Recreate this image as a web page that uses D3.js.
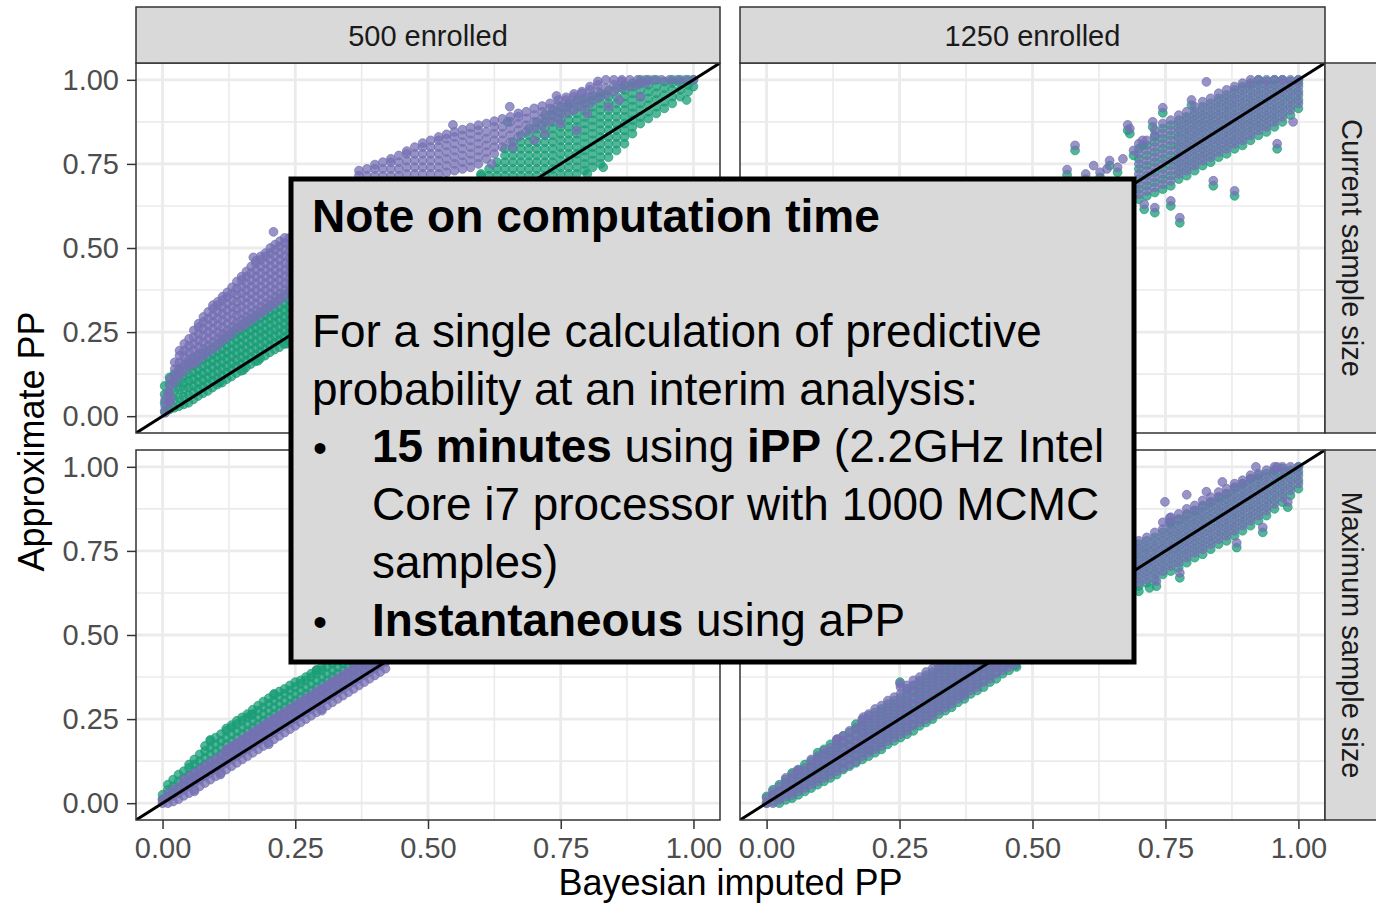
<!DOCTYPE html>
<html>
<head>
<meta charset="utf-8">
<script src="https://cdn.jsdelivr.net/npm/d3@7"></script>
<style>
  body { margin: 0; background: #fff; }
  text { font-family: "Liberation Sans", Arial, Helvetica, sans-serif; }
</style>
</head>
<body>
<svg id="chart" width="1376" height="904"></svg>
<script>
// facet labels and axis ticks
var enrolled   = ["500 enrolled", "1250 enrolled"];
var sampleSize = ["Current sample size", "Maximum sample size"];
var majorTicks = [0, 0.25, 0.5, 0.75, 1];
var minorTicks = [0.125, 0.375, 0.625, 0.875];
var tickLabels = ["0.00", "0.25", "0.50", "0.75", "1.00"];
var xTitle = "Bayesian imputed PP";
var yTitle = "Approximate PP";

// points, as [x, [y, y, ...]] columns plus single [x, y] points
// green series
var tlGreenCols = [
  [.004,[.015,.04,.065,.09]],[.013,[.02,.045,.07,.095,.115]],[.022,[.025,.05,.075,.1,.125]],
  [.031,[.03,.055,.08,.1,.125,.14]],[.04,[.035,.058,.08,.1,.12,.145]],[.049,[.04,.062,.085,.105,.125,.15,.16]],
  [.058,[.05,.07,.09,.11,.13,.15,.17]],[.067,[.06,.08,.1,.12,.14,.16,.18]],[.076,[.068,.088,.108,.128,.148,.168,.188]],
  [.085,[.075,.095,.115,.135,.155,.175,.195]],[.094,[.085,.105,.125,.145,.165,.185,.205]],
  [.103,[.094,.114,.134,.154,.174,.194,.214]],[.112,[.1,.12,.14,.16,.18,.2,.22,.228]],
  [.121,[.11,.13,.15,.17,.19,.21,.23,.24]],[.13,[.118,.138,.158,.178,.198,.218,.238,.25]],
  [.139,[.128,.148,.168,.188,.208,.228,.248,.262]],[.148,[.135,.155,.175,.195,.215,.235,.255,.272]],
  [.157,[.145,.165,.185,.205,.225,.245,.265,.282]],[.166,[.155,.175,.195,.215,.235,.255,.275,.29]],
  [.175,[.163,.183,.203,.223,.243,.263,.283,.3]],[.184,[.172,.192,.212,.232,.252,.272,.292,.31]],
  [.193,[.18,.2,.22,.24,.26,.28,.3,.32]],[.202,[.19,.21,.23,.25,.27,.29,.31,.33]],
  [.211,[.198,.218,.238,.258,.278,.298,.318,.34]],[.22,[.205,.225,.245,.265,.285,.305,.325,.35]],
  [.229,[.215,.235,.255,.275,.295,.315,.335,.36]],[.238,[.225,.245,.265,.285,.305,.325,.345,.37]],
  [.247,[.232,.252,.272,.292,.312,.332,.352,.38]],
  [.6,[.715,.72]],[.615,[.715,.735]],[.63,[.715,.735,.755]],[.645,[.715,.735,.755,.775,.795]],
  [.66,[.715,.735,.755,.775,.795,.815]],[.675,[.715,.735,.755,.775,.795,.815,.835]],
  [.69,[.715,.735,.755,.775,.795,.815,.835,.855]],[.705,[.715,.735,.755,.775,.795,.815,.835,.855,.875]],
  [.72,[.715,.735,.755,.775,.795,.815,.835,.855,.875,.895]],[.735,[.715,.735,.755,.775,.795,.815,.835,.855,.875,.895,.91]],
  [.75,[.72,.74,.76,.78,.8,.82,.84,.86,.88,.9,.92]],[.765,[.72,.74,.76,.78,.8,.82,.84,.86,.88,.9,.92,.93]],
  [.78,[.72,.74,.76,.78,.8,.82,.84,.86,.88,.9,.92,.94]],[.795,[.73,.75,.77,.79,.81,.83,.85,.87,.89,.91,.93,.945]],
  [.81,[.74,.76,.78,.8,.82,.84,.86,.88,.9,.92,.94,.952]],[.825,[.75,.77,.79,.81,.83,.85,.87,.89,.91,.93,.95,.96]],
  [.84,[.77,.79,.81,.83,.85,.87,.89,.91,.93,.95,.968]],[.855,[.79,.81,.83,.85,.87,.89,.91,.93,.95,.975]],
  [.87,[.81,.83,.85,.87,.89,.91,.93,.95,.97,.985]],[.885,[.84,.86,.88,.9,.92,.94,.96,.98,.99]],
  [.9,[.87,.89,.91,.93,.95,.97,.99,1]],[.915,[.885,.905,.925,.945,.965,.985,1]],
  [.93,[.9,.92,.94,.96,.98,1]],[.945,[.915,.935,.955,.975,.995]],[.96,[.93,.95,.97,.99,1]],
  [.975,[.95,.97,.99,1]],[.99,[.965,.985,1]],[1,[.98,1]]
];
var tlGreenPts = [[.152,.137],[.107,.1],[.233,.215],[.18,.165],[.83,.74],[.987,.94],[.8,.72],[.65,.875]];

var trGreenCols = [
  [.70,[.645,.675,.705,.735,.765,.795]],[.715,[.655,.685,.715,.745,.775,.805]],
  [.73,[.665,.695,.725,.755,.785,.815,.835]],[.745,[.675,.705,.735,.765,.795,.825,.855]],
  [.76,[.685,.715,.745,.775,.805,.835,.865]],[.775,[.705,.73,.755,.78,.805,.83,.855,.88]],
  [.79,[.715,.74,.765,.79,.815,.84,.865,.89]],[.805,[.73,.755,.78,.805,.83,.855,.88,.905]],
  [.82,[.745,.77,.795,.82,.845,.87,.895,.92]],[.835,[.755,.78,.805,.83,.855,.88,.905,.93]],
  [.85,[.77,.795,.82,.845,.87,.895,.92,.945]],[.865,[.78,.805,.83,.855,.88,.905,.93,.955]],
  [.88,[.795,.82,.845,.87,.895,.92,.945,.97]],[.895,[.805,.83,.855,.88,.905,.93,.955,.98]],
  [.91,[.82,.845,.87,.895,.92,.945,.97,.99]],[.925,[.835,.86,.885,.91,.935,.96,.985,1]],
  [.94,[.845,.87,.895,.92,.945,.97,.995]],[.955,[.86,.885,.91,.935,.96,.985,1]],
  [.97,[.875,.9,.925,.95,.975,1]],[.985,[.895,.92,.945,.97,.995]],[1,[.915,.94,.965,.99,1]]
];
var trGreenPts = [[.565,.718],[.58,.79],[.6,.705],[.627,.71],[.645,.745],[.66,.725],[.679,.85],[.683,.84],
  [.69,.775],[.707,.805],[.726,.86],[.745,.902],[.799,.925],[.777,.575],[.88,.655],[.84,.685],[.96,.795],
  [.73,.605],[.76,.625],[.71,.615]];

var blGreenCols = [
  [0,[.01,.025]],[.01,[.02,.04,.055]],[.02,[.03,.05,.07]],[.03,[.045,.065,.085]],[.04,[.055,.075,.095]],
  [.05,[.065,.085,.105,.115]],[.06,[.075,.095,.115,.13]],[.07,[.085,.105,.125,.145]],
  [.08,[.095,.115,.135,.155,.17]],[.09,[.105,.125,.145,.165,.185]],[.1,[.115,.135,.155,.175,.195]],
  [.11,[.125,.145,.165,.185,.205]],[.12,[.135,.155,.175,.195,.215,.222]],[.13,[.145,.165,.185,.205,.225,.232]],
  [.14,[.155,.175,.195,.215,.235,.245]],[.15,[.165,.185,.205,.225,.245,.255]],[.16,[.175,.195,.215,.235,.255,.265]],
  [.17,[.185,.205,.225,.245,.265,.278]],[.18,[.195,.215,.235,.255,.275,.29]],[.19,[.205,.225,.245,.265,.285,.302]],
  [.2,[.215,.235,.255,.275,.295,.312]],[.21,[.225,.245,.265,.285,.305,.322]],[.22,[.235,.255,.275,.295,.315,.332]],
  [.23,[.245,.265,.285,.305,.325,.34]],[.24,[.255,.275,.295,.315,.335,.35]],[.25,[.265,.285,.305,.325,.345,.36]],
  [.26,[.275,.295,.315,.335,.355,.365]],[.27,[.285,.305,.325,.345,.365,.375]],[.28,[.295,.315,.335,.355,.375,.385]],
  [.29,[.305,.325,.345,.365,.385,.395]],[.3,[.315,.335,.355,.375,.395,.405]],[.31,[.325,.345,.365,.385,.405]],
  [.32,[.335,.355,.375,.395,.415]],[.33,[.345,.365,.385,.405]],[.34,[.355,.375,.395,.415]],
  [.35,[.365,.385,.405]],[.36,[.375,.395,.415]],[.37,[.385,.405]],[.38,[.395,.415]],[.39,[.405,.42]]
];
var blGreenPts = [[.21,.325],[.167,.262],[.09,.188],[.29,.396]];

var brGreenCols = [
  [0,[0,.02]],[.012,[.005,.025,.04]],[.024,[0,.015,.035,.055]],[.036,[.01,.03,.05,.07]],
  [.048,[.015,.035,.055,.075,.09]],[.06,[.025,.045,.065,.085,.1]],[.072,[.035,.055,.075,.095,.115]],
  [.084,[.045,.065,.085,.105,.125]],[.096,[.055,.075,.095,.115,.135,.15]],[.108,[.065,.085,.105,.125,.145,.16]],
  [.12,[.075,.095,.115,.135,.155,.175]],[.132,[.085,.105,.125,.145,.165,.185]],[.144,[.1,.12,.14,.16,.18,.2]],
  [.156,[.11,.13,.15,.17,.19,.21]],[.168,[.12,.14,.16,.18,.2,.22,.235]],[.18,[.13,.15,.17,.19,.21,.23,.245]],
  [.192,[.14,.16,.18,.2,.22,.24,.26]],[.204,[.15,.17,.19,.21,.23,.25,.27]],[.216,[.16,.18,.2,.22,.24,.26,.28]],
  [.228,[.175,.195,.215,.235,.255,.275,.295]],[.24,[.185,.205,.225,.245,.265,.285,.305]],
  [.252,[.195,.215,.235,.255,.275,.295,.315]],[.264,[.205,.225,.245,.265,.285,.305,.325,.34]],
  [.276,[.215,.235,.255,.275,.295,.315,.335,.35]],[.288,[.23,.25,.27,.29,.31,.33,.35,.365]],
  [.3,[.24,.26,.28,.3,.32,.34,.36,.38]],[.312,[.25,.27,.29,.31,.33,.35,.37,.39]],
  [.324,[.265,.285,.305,.325,.345,.365,.385,.4]],[.336,[.275,.295,.315,.335,.355,.375,.395,.41]],
  [.348,[.285,.305,.325,.345,.365,.385,.405]],[.36,[.3,.32,.34,.36,.38,.4,.42]],[.372,[.31,.33,.35,.37,.39,.41]],
  [.384,[.325,.345,.365,.385,.405]],[.396,[.335,.355,.375,.395,.415]],[.408,[.345,.365,.385,.405]],
  [.42,[.36,.38,.4,.42]],[.432,[.37,.39,.41]],[.444,[.385,.405]],[.456,[.395,.415]],[.468,[.41]],
  [.70,[.645,.67,.695,.72,.745,.77]],[.715,[.655,.68,.705,.73,.755,.78]],[.73,[.665,.69,.715,.74,.765,.79]],
  [.745,[.68,.705,.73,.755,.78,.805]],[.76,[.69,.715,.74,.765,.79,.815,.835]],[.775,[.7,.725,.75,.775,.8,.825,.845]],
  [.79,[.715,.74,.765,.79,.815,.84,.86]],[.805,[.73,.755,.78,.805,.83,.855,.87]],[.82,[.74,.765,.79,.815,.84,.865,.885]],
  [.835,[.755,.78,.805,.83,.855,.88,.895]],[.85,[.77,.795,.82,.845,.87,.895,.91]],[.865,[.78,.805,.83,.855,.88,.905,.92]],
  [.88,[.795,.82,.845,.87,.895,.92,.94]],[.895,[.81,.835,.86,.885,.91,.935,.95]],[.91,[.825,.85,.875,.9,.925,.95,.965]],
  [.925,[.84,.865,.89,.915,.94,.965,.975]],[.94,[.855,.88,.905,.93,.955,.98]],[.955,[.875,.9,.925,.95,.975,.99]],
  [.97,[.895,.92,.945,.97,.995]],[.985,[.915,.94,.965,.99]],[1,[.935,.96,.985,1]]
];
var brGreenPts = [[.758,.835],[.884,.76],[.933,.805],[.98,.88],[.777,.67],[.733,.645],[.70,.63],[.72,.64],
  [.37,.327],[.47,.405],[.195,.158],[.251,.36]];

// purple series
var tlPurpleCols = [
  [.005,[.01,.03,.05]],[.014,[.04,.065,.09,.11]],[.023,[.1,.12,.14,.16]],[.032,[.12,.14,.16,.18,.195]],
  [.041,[.135,.155,.175,.195,.215]],[.05,[.15,.17,.19,.21,.23]],[.059,[.155,.175,.195,.215,.235,.255]],
  [.068,[.165,.185,.205,.225,.245,.265,.275]],[.077,[.18,.2,.22,.24,.26,.28,.295]],
  [.086,[.19,.21,.23,.25,.27,.29,.31]],[.095,[.2,.22,.24,.26,.28,.3,.32,.33]],
  [.104,[.21,.23,.25,.27,.29,.31,.33,.34]],[.113,[.225,.245,.265,.285,.305,.325,.345,.355]],
  [.122,[.235,.255,.275,.295,.315,.335,.355,.368]],[.131,[.245,.265,.285,.305,.325,.345,.365,.383]],
  [.14,[.26,.28,.3,.32,.34,.36,.38,.4]],[.149,[.265,.285,.305,.325,.345,.365,.385,.405,.415]],
  [.158,[.275,.295,.315,.335,.355,.375,.395,.415,.43]],[.167,[.285,.305,.325,.345,.365,.385,.405,.425,.445]],
  [.176,[.295,.315,.335,.355,.375,.395,.415,.435,.455,.462]],[.185,[.305,.325,.345,.365,.385,.405,.425,.445,.465,.475]],
  [.194,[.315,.335,.355,.375,.395,.415,.435,.455,.475,.485]],[.203,[.325,.345,.365,.385,.405,.425,.445,.465,.485,.5]],
  [.212,[.335,.355,.375,.395,.415,.435,.455,.475,.495,.51]],[.221,[.345,.365,.385,.405,.425,.445,.465,.485,.505,.52]],
  [.23,[.355,.375,.395,.415,.435,.455,.475,.495,.515,.53]],[.239,[.37,.39,.41,.43,.45,.47,.49,.51,.53]],
  [.248,[.38,.4,.42,.44,.46,.48,.5,.52,.54]],
  [.37,[.715,.73]],[.385,[.715,.735]],[.4,[.715,.735,.748]],[.415,[.715,.735,.755]],[.43,[.715,.735,.755,.765]],
  [.445,[.715,.735,.755,.775]],[.46,[.72,.74,.76,.78,.788]],[.475,[.72,.74,.76,.78,.8]],
  [.49,[.72,.74,.76,.78,.8,.812]],[.505,[.72,.74,.76,.78,.8,.82]],[.52,[.72,.74,.76,.78,.8,.82,.83]],
  [.535,[.725,.745,.765,.785,.805,.825,.838]],[.55,[.73,.75,.77,.79,.81,.83,.845]],
  [.565,[.735,.755,.775,.795,.815,.835,.852]],[.58,[.74,.76,.78,.8,.82,.84,.858]],
  [.595,[.75,.77,.79,.81,.83,.85,.865]],[.61,[.765,.785,.805,.825,.845,.87]],[.625,[.78,.8,.82,.84,.86,.877]],
  [.64,[.8,.82,.84,.86,.884]],[.655,[.815,.835,.855,.875,.89]],[.67,[.83,.85,.87,.89,.9]],
  [.685,[.845,.865,.885,.905]],[.7,[.855,.875,.895,.915]],[.715,[.865,.885,.905,.922]],
  [.73,[.875,.895,.915,.93]],[.745,[.885,.905,.925,.94]],[.76,[.9,.92,.94,.948]],[.775,[.91,.93,.95,.958]],
  [.79,[.92,.94,.96,.965]],[.805,[.93,.95,.97,.98]],[.82,[.945,.965,.985,.995]],[.835,[.955,.975,1]],
  [.85,[.965,.985,1]],[.865,[.975,.995,1]],[.88,[.98,1]],[.895,[.985,1]],[.91,[.99,1]],[.925,[1]],
  [.94,[1]],[.955,[1]],[.97,[1]],[.985,[1]],[1,[1]]
];
var tlPurplePts = [[.209,.548],[.171,.472],[.547,.866],[.654,.92],[.742,.952],[.66,.8],[.7,.82],[.72,.84],
  [.75,.87],[.78,.85],[.8,.9],[.84,.92],[.86,.94],[.9,.95],[.62,.75],[.01,.07],[.015,.05]];

var trPurpleCols = [
  [.70,[.66,.69,.72,.75,.78,.81]],[.715,[.67,.70,.73,.76,.79,.82]],[.73,[.68,.71,.74,.77,.80,.83,.85]],
  [.745,[.69,.72,.75,.78,.81,.84,.87]],[.76,[.70,.73,.76,.79,.82,.85,.88]],
  [.775,[.72,.745,.77,.795,.82,.845,.87,.895]],[.79,[.73,.755,.78,.805,.83,.855,.88,.905]],
  [.805,[.745,.77,.795,.82,.845,.87,.895,.92]],[.82,[.76,.785,.81,.835,.86,.885,.91,.935]],
  [.835,[.77,.795,.82,.845,.87,.895,.92,.945]],[.85,[.785,.81,.835,.86,.885,.91,.935,.96]],
  [.865,[.795,.82,.845,.87,.895,.92,.945,.97]],[.88,[.81,.835,.86,.885,.91,.935,.96,.98]],
  [.895,[.82,.845,.87,.895,.92,.945,.97,.99]],[.91,[.835,.86,.885,.91,.935,.96,.985,1]],
  [.925,[.85,.875,.9,.925,.95,.975,1]],[.94,[.86,.885,.91,.935,.96,.985,1]],[.955,[.875,.9,.925,.95,.975,1]],
  [.97,[.89,.915,.94,.965,.99,1]],[.985,[.91,.935,.96,.985,1]],[1,[.93,.955,.98,1]]
];
var trPurplePts = [[.565,.733],[.58,.805],[.6,.72],[.627,.725],[.645,.76],[.66,.74],[.67,.765],[.679,.866],
  [.683,.855],[.69,.79],[.707,.82],[.726,.875],[.745,.917],[.799,.94],[.827,.994],[.777,.59],[.88,.67],
  [.84,.70],[.96,.81],[.99,.875],[.73,.62],[.76,.64],[.71,.63],[.64,.735],[.615,.745]];

var blPurpleCols = [
  [0,[0,.012]],[.01,[0,.015,.028]],[.02,[.005,.022,.04]],[.03,[.012,.03,.048]],[.04,[.022,.04,.058,.07]],
  [.05,[.03,.05,.068,.08]],[.06,[.04,.06,.078,.09]],[.07,[.05,.07,.088,.1]],[.08,[.06,.08,.098,.112]],
  [.09,[.07,.09,.108,.122]],[.1,[.08,.1,.118,.132]],[.11,[.09,.11,.128,.142]],[.12,[.1,.12,.138,.152,.16]],
  [.13,[.11,.13,.148,.162,.17]],[.14,[.12,.14,.158,.172,.18]],[.15,[.13,.15,.168,.182,.19]],
  [.16,[.14,.16,.178,.192,.2]],[.17,[.15,.17,.188,.202,.212]],[.18,[.16,.18,.198,.212,.222]],
  [.19,[.17,.19,.208,.222,.232]],[.2,[.18,.2,.218,.232,.242]],[.21,[.19,.21,.228,.242,.252]],
  [.22,[.2,.22,.238,.252,.262]],[.23,[.21,.23,.248,.262,.272]],[.24,[.22,.24,.258,.272,.282]],
  [.25,[.23,.25,.268,.282,.292]],[.26,[.24,.26,.278,.292,.302]],[.27,[.25,.27,.288,.302,.312]],
  [.28,[.26,.28,.298,.312,.322]],[.29,[.27,.29,.308,.322,.332]],[.3,[.28,.3,.318,.332,.342]],
  [.31,[.29,.31,.328,.342,.352]],[.32,[.3,.32,.338,.352,.362]],[.33,[.31,.33,.348,.362,.372]],
  [.34,[.32,.34,.358,.372,.382]],[.35,[.33,.35,.368,.382,.392]],[.36,[.34,.36,.378,.392,.402]],
  [.37,[.35,.37,.388,.402,.412]],[.38,[.36,.38,.398,.412]],[.39,[.37,.39,.408]],[.4,[.38,.4,.418]],
  [.41,[.39,.41]],[.42,[.4,.42]]
];
var blPurplePts = [[.109,.085],[.06,.035],[.2,.175],[.3,.275]];

var brPurpleCols = [
  [0,[0,.015]],[.012,[0,.02,.035]],[.024,[.01,.03,.05]],[.036,[.02,.04,.06,.075]],[.048,[.025,.045,.065,.085]],
  [.06,[.035,.055,.075,.095]],[.072,[.045,.065,.085,.105]],[.084,[.055,.075,.095,.115,.13]],
  [.096,[.065,.085,.105,.125,.14]],[.108,[.075,.095,.115,.135,.155]],[.12,[.085,.105,.125,.145,.165]],
  [.132,[.095,.115,.135,.155,.175,.19]],[.144,[.105,.125,.145,.165,.185,.2]],[.156,[.115,.135,.155,.175,.195,.215]],
  [.168,[.125,.145,.165,.185,.205,.225]],[.18,[.14,.16,.18,.2,.22,.24,.25]],[.192,[.15,.17,.19,.21,.23,.25,.265]],
  [.204,[.16,.18,.2,.22,.24,.26,.28]],[.216,[.17,.19,.21,.23,.25,.27,.29]],[.228,[.185,.205,.225,.245,.265,.285,.305]],
  [.24,[.195,.215,.235,.255,.275,.295,.315]],[.252,[.205,.225,.245,.265,.285,.305,.325,.345]],
  [.264,[.215,.235,.255,.275,.295,.315,.335,.35]],[.276,[.23,.25,.27,.29,.31,.33,.35,.365]],
  [.288,[.24,.26,.28,.3,.32,.34,.36,.375]],[.3,[.25,.27,.29,.31,.33,.35,.37,.39]],
  [.312,[.26,.28,.3,.32,.34,.36,.38,.4]],[.324,[.275,.295,.315,.335,.355,.375,.395,.41]],
  [.336,[.285,.305,.325,.345,.365,.385,.405]],[.348,[.295,.315,.335,.355,.375,.395,.415]],
  [.36,[.31,.33,.35,.37,.39,.41]],[.372,[.32,.34,.36,.38,.4,.42]],[.384,[.335,.355,.375,.395,.415]],
  [.396,[.345,.365,.385,.405]],[.408,[.36,.38,.4,.42]],[.42,[.37,.39,.41]],[.432,[.385,.405,.42]],
  [.444,[.395,.415]],[.456,[.405,.42]],[.468,[.415]],
  [.70,[.655,.68,.705,.73,.755,.78]],[.715,[.665,.69,.715,.74,.765,.79]],[.73,[.68,.705,.73,.755,.78,.805]],
  [.745,[.69,.715,.74,.765,.79,.815,.835]],[.76,[.705,.73,.755,.78,.805,.83,.85]],
  [.775,[.715,.74,.765,.79,.815,.84,.86]],[.79,[.73,.755,.78,.805,.83,.855,.875]],
  [.805,[.745,.77,.795,.82,.845,.87,.885]],[.82,[.755,.78,.805,.83,.855,.88,.9]],
  [.835,[.77,.795,.82,.845,.87,.895,.91]],[.85,[.785,.81,.835,.86,.885,.91,.925]],
  [.865,[.795,.82,.845,.87,.895,.92,.935]],[.88,[.81,.835,.86,.885,.91,.935,.95]],
  [.895,[.825,.85,.875,.9,.925,.95,.96]],[.91,[.84,.865,.89,.915,.94,.965,.975]],
  [.925,[.855,.88,.905,.93,.955,.98]],[.94,[.87,.895,.92,.945,.97,.99]],[.955,[.89,.915,.94,.965,.99,1]],
  [.97,[.91,.935,.96,.985,1]],[.985,[.93,.955,.98,1]],[1,[.95,.975,1]]
];
var brPurplePts = [[.749,.896],[.79,.917],[.827,.926],[.857,.955],[.758,.848],[.884,.774],[.933,.82],
  [.98,.896],[.777,.685],[.733,.66],[.92,1],[.96,1],[.182,.256],[.133,.19],[.251,.355],[.058,.098]];

var greenColor = "#1B9E77", purpleColor = "#7570B3";

var svg = d3.select("#chart");
var colRange = [[136, 720], [740, 1325]];
var rowRange = [[433, 63], [820, 450]];

function expand(cols, pts) {
  var out = [];
  cols.forEach(function(c) {
    c[1].forEach(function(y) { out.push([c[0], y]); });
  });
  return out.concat(pts);
}

function tag(a, col) {
  return a.map(function(d) { return {x: d[0], y: d[1], c: col}; });
}

// green drawn first, purple over it
function layered(a, b) { return tag(a, greenColor).concat(tag(b, purpleColor)); }

var panels = [
  {r: 0, c: 0, pts: layered(expand(tlGreenCols, tlGreenPts), expand(tlPurpleCols, tlPurplePts))},
  {r: 0, c: 1, pts: layered(expand(trGreenCols, trGreenPts), expand(trPurpleCols, trPurplePts))},
  {r: 1, c: 0, pts: layered(expand(blGreenCols, blGreenPts), expand(blPurpleCols, blPurplePts))},
  {r: 1, c: 1, pts: layered(expand(brGreenCols, brGreenPts), expand(brPurpleCols, brPurplePts))}
];

panels.forEach(function(p, i) {
  var x = d3.scaleLinear().domain([-0.05, 1.05]).range(colRange[p.c]);
  var y = d3.scaleLinear().domain([-0.05, 1.05]).range(rowRange[p.r]);
  var x0 = colRange[p.c][0], x1 = colRange[p.c][1];
  var y0 = rowRange[p.r][1], y1 = rowRange[p.r][0];

  svg.append("clipPath").attr("id", "clip" + i)
    .append("rect").attr("x", x0).attr("y", y0).attr("width", x1 - x0).attr("height", y1 - y0);

  var g = svg.append("g");
  g.append("rect").attr("x", x0).attr("y", y0).attr("width", x1 - x0).attr("height", y1 - y0).attr("fill", "#fff");

  // grid
  g.selectAll(".vminor").data(minorTicks).enter().append("line")
    .attr("x1", x).attr("x2", x).attr("y1", y0).attr("y2", y1)
    .attr("stroke", "#EBEBEB").attr("stroke-width", 1.6);
  g.selectAll(".hminor").data(minorTicks).enter().append("line")
    .attr("y1", y).attr("y2", y).attr("x1", x0).attr("x2", x1)
    .attr("stroke", "#EBEBEB").attr("stroke-width", 1.6);
  g.selectAll(".vmajor").data(majorTicks).enter().append("line")
    .attr("x1", x).attr("x2", x).attr("y1", y0).attr("y2", y1)
    .attr("stroke", "#EBEBEB").attr("stroke-width", 2.8);
  g.selectAll(".hmajor").data(majorTicks).enter().append("line")
    .attr("y1", y).attr("y2", y).attr("x1", x0).attr("x2", x1)
    .attr("stroke", "#EBEBEB").attr("stroke-width", 2.8);

  var inner = g.append("g").attr("clip-path", "url(#clip" + i + ")");
  inner.selectAll("circle").data(p.pts).enter().append("circle")
    .attr("cx", function(d) { return x(d.x); })
    .attr("cy", function(d) { return y(d.y); })
    .attr("r", 4.4)
    .attr("fill", function(d) { return d.c; })
    .attr("fill-opacity", 0.75)
    .attr("stroke", function(d) { return d.c; })
    .attr("stroke-opacity", 0.7)
    .attr("stroke-width", 1);

  // identity line
  inner.append("line")
    .attr("x1", x(-0.05)).attr("y1", y(-0.05)).attr("x2", x(1.05)).attr("y2", y(1.05))
    .attr("stroke", "#000").attr("stroke-width", 3);

  g.append("rect").attr("x", x0).attr("y", y0).attr("width", x1 - x0).attr("height", y1 - y0)
    .attr("fill", "none").attr("stroke", "#333").attr("stroke-width", 1.5);

  // axes
  if (p.c === 0) {
    var ay = svg.append("g").attr("transform", "translate(" + x0 + ",0)")
      .call(d3.axisLeft(y).tickValues(majorTicks).tickSize(9).tickPadding(8)
        .tickFormat(function(d, j) { return tickLabels[j]; }));
    styleAxis(ay);
  }
  if (p.r === 1) {
    var ax = svg.append("g").attr("transform", "translate(0," + y1 + ")")
      .call(d3.axisBottom(x).tickValues(majorTicks).tickSize(9).tickPadding(8)
        .tickFormat(function(d, j) { return tickLabels[j]; }));
    styleAxis(ax);
  }

  // strips
  if (p.r === 0) {
    svg.append("rect").attr("x", x0).attr("y", 7).attr("width", x1 - x0).attr("height", 56)
      .attr("fill", "#D9D9D9").attr("stroke", "#333").attr("stroke-width", 1.5);
    svg.append("text").attr("x", (x0 + x1) / 2).attr("y", 45.5).attr("text-anchor", "middle")
      .attr("font-size", 29).attr("fill", "#1A1A1A").text(enrolled[p.c]);
  }
  if (p.c === 1) {
    svg.append("rect").attr("x", x1).attr("y", y0).attr("width", 58).attr("height", y1 - y0)
      .attr("fill", "#D9D9D9").attr("stroke", "#333").attr("stroke-width", 1.5);
    var cy = (y0 + y1) / 2;
    svg.append("text").attr("transform", "translate(1341.5," + cy + ") rotate(90)")
      .attr("text-anchor", "middle").attr("font-size", 29).attr("fill", "#1A1A1A").text(sampleSize[p.r]);
  }
});

function styleAxis(a) {
  a.select(".domain").remove();
  a.selectAll(".tick line").attr("stroke", "#333").attr("stroke-width", 1.5);
  a.selectAll(".tick text").attr("font-size", 29).attr("fill", "#4D4D4D");
}

svg.append("text").attr("x", 730.5).attr("y", 895).attr("text-anchor", "middle")
  .attr("font-size", 36).attr("fill", "#000").text(xTitle);
svg.append("text").attr("transform", "translate(44,441.5) rotate(-90)").attr("text-anchor", "middle")
  .attr("font-size", 36).attr("fill", "#000").text(yTitle);

// note box laid over the panels
var noteTitle = "Note on computation time";
var noteLines = [
  {bullet: false, parts: [["For a single calculation of predictive", 0]]},
  {bullet: false, parts: [["probability at an interim analysis:", 0]]},
  {bullet: true,  parts: [["15 minutes", 1], [" using ", 0], ["iPP", 1], [" (2.2GHz Intel", 0]]},
  {bullet: false, parts: [["Core i7 processor with 1000 MCMC", 0]]},
  {bullet: false, parts: [["samples)", 0]]},
  {bullet: true,  parts: [["Instantaneous", 1], [" using aPP", 0]]}
];
var noteBase = [347, 404.5, 462, 520, 578, 636];

var note = svg.append("g");
note.append("rect").attr("x", 291).attr("y", 179).attr("width", 843).attr("height", 483)
  .attr("fill", "#D9D9D9").attr("stroke", "#000").attr("stroke-width", 5);

var tt = note.append("text").attr("x", 312).attr("y", 232)
  .attr("font-weight", "bold").attr("font-size", 40).attr("fill", "#000").text(noteTitle);
tt.attr("font-size", 40 * 568 / tt.node().getComputedTextLength());

var lineTexts = noteLines.map(function(l, i) {
  var t = note.append("text").attr("x", l.bullet || i === 3 || i === 4 ? 372 : 312).attr("y", noteBase[i])
    .attr("font-size", 40).attr("fill", "#000")
    .style("white-space", "pre");
  l.parts.forEach(function(pt) {
    t.append("tspan").attr("font-weight", pt[1] ? "bold" : "normal").text(pt[0]);
  });
  if (l.bullet) {
    note.append("text").attr("x", 320).attr("y", noteBase[i]).attr("text-anchor", "middle")
      .attr("font-size", 40).text("\u2022");
  }
  return t;
});
// size the body so the longest plain line spans the same width as in the picture
var fs = 40 * 730 / lineTexts[0].node().getComputedTextLength();
lineTexts.forEach(function(t) { t.attr("font-size", fs); });
</script>
</body>
</html>
